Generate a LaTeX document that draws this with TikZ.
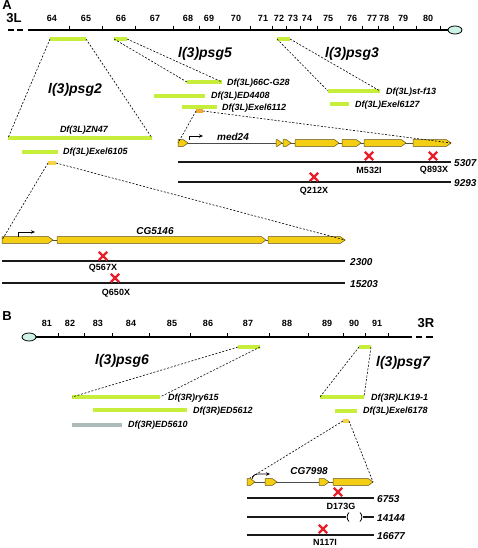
\documentclass[tikz,border=0pt]{standalone}
\usepackage{fontspec}
\setmainfont{Liberation Sans}
\usetikzlibrary{arrows.meta,shapes.geometric}
\definecolor{dfgreen}{RGB}{198,238,58}
\definecolor{dfgrey}{RGB}{172,186,186}
\definecolor{markyel}{RGB}{246,212,70}
\definecolor{markorg}{RGB}{242,168,52}
\definecolor{exonfill}{RGB}{244,206,18}
\definecolor{exonline}{RGB}{95,80,15}
\definecolor{mutred}{RGB}{232,30,40}
\definecolor{telcol}{RGB}{205,242,232}
\newcommand{\exonbox}[3]{\filldraw[exon] (#1,{#3-3.3}) -- ({#2-4.5},{#3-3.3}) -- (#2,#3) -- ({#2-4.5},{#3+3.3}) -- (#1,{#3+3.3}) -- cycle;}
\newcommand{\mutx}[2]{\draw[redx] ({#1-4.2},{#2-4.2}) -- ({#1+4.2},{#2+4.2}) ({#1-4.2},{#2+4.2}) -- ({#1+4.2},{#2-4.2});}
\begin{document}
\begin{tikzpicture}[x=1pt,y=-1pt,
  chrom/.style={line width=2.2pt},
  tickmk/.style={line width=0.8pt},
  dfbar/.style={line width=3.4pt,dfgreen},
  greybar/.style={line width=3.4pt,dfgrey},
  markbar/.style={line width=3.4pt,#1},
  zoomln/.style={line width=0.6pt,dash pattern=on 2pt off 1.6pt},
  mutln/.style={line width=1.2pt,black!90},
  intron/.style={line width=0.8pt,black!70},
  exon/.style={fill=exonfill,draw=exonline,line width=0.5pt},
  redx/.style={mutred,line width=2.2pt},
  tss/.style={line width=0.8pt,-{Stealth[length=4pt,width=3.5pt]}},
  tel/.style={ellipse,draw,line width=0.8pt,fill=telcol,minimum width=14pt,minimum height=8pt,inner sep=0pt},
  panel/.style={font=\fontsize{13}{15}\selectfont\bfseries,inner sep=0pt},
  arm/.style={font=\fontsize{13}{15}\selectfont\bfseries,inner sep=0pt},
  num/.style={font=\fontsize{9}{10}\selectfont\bfseries,inner sep=0pt},
  dflab/.style={font=\fontsize{9}{10}\selectfont\bfseries\itshape,anchor=west,inner sep=0pt},
  locus/.style={font=\fontsize{14}{16}\selectfont\bfseries\itshape,inner sep=0pt},
  genelab/.style={font=\fontsize{10}{12}\selectfont\bfseries\itshape,inner sep=0pt},
  mutlab/.style={font=\fontsize{9}{10}\selectfont\bfseries,inner sep=0pt},
  lenlab/.style={font=\fontsize{10}{12}\selectfont\bfseries\itshape,anchor=west,inner sep=0pt}]
\useasboundingbox (0,0) rectangle (478,548);

%%%%%%%%%%%%%%%% PANEL A %%%%%%%%%%%%%%%%
\node[panel] (pA) at (7,5) {A};
\node[arm] (armL) at (14,18) {3L};
\foreach \n/\x in {64/52,65/86,66/121,67/155,68/188,69/209,70/236,71/263,72/279,73/293,74/307,75/328,76/352,77/372,78/384,79/403,80/428}
  \node[num] (nA\n) at (\x,18) {\n};
\node[tel] (telA) at (455,30) {};
\coordinate (cA0) at (28,30);
\draw[chrom] (cA0) -- (telA.west);
\draw[chrom] (8,30) -- (13.5,30) (17,30) -- (23,30);
\foreach \x in {69,102,135,173,199,219,250,272,286,300,317,340,362,378,393,416,440}
  \draw[tickmk] (\x,26) -- (\x,30);

% l(3)psg2
\draw[dfbar] (50,39) coordinate (g2a) -- (86,39) coordinate (g2b);
\node[locus] (psg2) at (75,90) {l(3)psg2};
\draw[dfbar] (8,138) coordinate (zn47a) -- (152,138) coordinate (zn47b);
\node[font=\fontsize{9}{10}\selectfont\bfseries\itshape,inner sep=0pt] (zn47) at (84,130) {Df(3L)ZN47};
\draw[zoomln] (g2a) -- (zn47a);
\draw[zoomln] (g2b) -- (zn47b);
\draw[dfbar] (22,152) -- (58,152);
\node[dflab] (ex6105) at (63,152) {Df(3L)Exel6105};
\draw[markbar=markyel] (48,163) coordinate (m1a) -- (56,163) coordinate (m1b);

% CG5146
\coordinate (cgA) at (2,240);
\coordinate (cgB) at (345,240);
\draw[intron] (cgA) -- (cgB);
\exonbox{2}{53}{240}
\exonbox{57}{266}{240}
\exonbox{268}{345}{240}
\draw[tss] (18,237) -- (18,232) -- (35,232);
\node[genelab] (cg5146) at (155,231) {CG5146};
\draw[zoomln] (m1a) -- (cgA);
\draw[zoomln] (m1b) -- (cgB);
\draw[mutln] (2,261) coordinate (l2300a) -- (345,261) coordinate (l2300b);
\node[lenlab] (n2300) at (350,262) {2300};
\mutx{103}{256}
\node[mutlab] (q567) at (103,268) {Q567X};
\draw[mutln] (2,283) coordinate (l15203a) -- (345,283) coordinate (l15203b);
\node[lenlab] (n15203) at (350,284) {15203};
\mutx{115}{278}
\node[mutlab] (q650) at (116,293) {Q650X};

% l(3)psg5
\draw[dfbar] (114,39) coordinate (g5a) -- (127,39) coordinate (g5b);
\node[locus] (psg5) at (205,54) {l(3)psg5};
\draw[dfbar] (187,82) coordinate (g28a) -- (222,82) coordinate (g28b);
\draw[zoomln] (g5a) -- (g28a);
\draw[zoomln] (g5b) -- (g28b);
\node[dflab] (g28) at (227,83) {Df(3L)66C-G28};
\draw[dfbar] (154,96) -- (205,96);
\node[dflab] (ed4408) at (211,96) {Df(3L)ED4408};
\draw[dfbar] (182,107) -- (217,107);
\node[dflab] (ex6112) at (222,108) {Df(3L)Exel6112};
\draw[markbar=markorg] (196,111) coordinate (m2a) -- (203,111) coordinate (m2b);

% l(3)psg3
\draw[dfbar] (277,39) coordinate (g3a) -- (290,39) coordinate (g3b);
\node[locus] (psg3) at (352,54) {l(3)psg3};
\draw[dfbar] (328,91) coordinate (stfa) -- (380,91) coordinate (stfb);
\draw[zoomln] (g3a) -- (stfa);
\draw[zoomln] (g3b) -- (stfb);
\node[dflab] (stf13) at (386,92) {Df(3L)st-f13};
\draw[dfbar] (330,104) -- (349,104);
\node[dflab] (ex6127) at (355,105) {Df(3L)Exel6127};

% med24
\coordinate (mdA) at (178,143);
\coordinate (mdB) at (451,143);
\draw[intron] (mdA) -- (mdB);
\exonbox{178}{188}{143}
\exonbox{276}{282}{143}
\exonbox{283}{291}{143}
\exonbox{295}{339}{143}
\exonbox{342}{361}{143}
\exonbox{364}{406}{143}
\exonbox{413}{451}{143}
\draw[tss] (189,140) -- (189,136) -- (203,136);
\node[genelab] (med24) at (233,137) {med24};
\draw[zoomln] (m2a) -- (mdA);
\draw[zoomln] (m2b) -- (mdB);
\draw[mutln] (178,162) coordinate (l5307a) -- (451,162) coordinate (l5307b);
\node[lenlab] (n5307) at (454,163) {5307};
\mutx{369}{156}
\node[mutlab] (m532) at (369,170) {M532I};
\mutx{433}{156}
\node[mutlab] (q893) at (434,170) {Q893X};
\draw[mutln] (178,182) coordinate (l9293a) -- (451,182) coordinate (l9293b);
\node[lenlab] (n9293) at (454,183) {9293};
\mutx{314}{177}
\node[mutlab] (q212) at (314,191) {Q212X};

%%%%%%%%%%%%%%%% PANEL B %%%%%%%%%%%%%%%%
\node[panel] (pB) at (7,316) {B};
\node[arm] (armR) at (426,323) {3R};
\foreach \n/\x in {81/47,82/70,83/98,84/131,85/172,86/208,87/248,88/287,89/327,90/354,91/377}
  \node[num] (nB\n) at (\x,323) {\n};
\node[tel] (telB) at (29,337) {};
\coordinate (cB1) at (412,337);
\draw[chrom] (telB.east) -- (cB1);
\draw[chrom] (415.5,337) -- (422,337) (426,337) -- (433,337);
\foreach \x in {58,84,112,149,190,227,269,308,343,365,388}
  \draw[tickmk] (\x,333) -- (\x,337);

% l(3)psg6
\draw[dfbar] (238,347) coordinate (g6a) -- (260,347) coordinate (g6b);
\node[locus] (psg6) at (122,361) {l(3)psg6};
\draw[dfbar] (72,397) coordinate (rya) -- (160,397) coordinate (ryb);
\draw[zoomln] (g6a) -- (rya);
\draw[zoomln] (g6b) -- (ryb);
\node[dflab] (ry615) at (168,398) {Df(3R)ry615};
\draw[dfbar] (93,410) -- (187,410);
\node[dflab] (ed5612) at (193,411) {Df(3R)ED5612};
\draw[greybar] (72,425) -- (122,425);
\node[dflab] (ed5610) at (128,425) {Df(3R)ED5610};

% l(3)psg7
\draw[dfbar] (359,347) coordinate (g7a) -- (371,347) coordinate (g7b);
\node[locus] (psg7) at (403,363) {l(3)psg7};
\draw[dfbar] (320,397) coordinate (lka) -- (364,397) coordinate (lkb);
\draw[zoomln] (g7a) -- (lka);
\draw[zoomln] (g7b) -- (lkb);
\node[dflab] (lk19) at (371,398) {Df(3R)LK19-1};
\draw[dfbar] (335,411) -- (357,411);
\node[dflab] (ex6178) at (363,411) {Df(3L)Exel6178};
\draw[markbar=markyel] (343,421) coordinate (m3a) -- (349,421) coordinate (m3b);

% CG7998
\coordinate (c7A) at (247,482);
\coordinate (c7B) at (373,482);
\coordinate (c7L) at (250,478);
\draw[intron] (c7A) -- (c7B);
\exonbox{247}{255}{482}
\exonbox{265}{277}{482}
\exonbox{319}{329}{482}
\exonbox{333}{373}{482}
\draw[tss,rounded corners=3pt] (252,479) -- (254,474) -- (270,474);
\node[genelab] (cg7998) at (309,471) {CG7998};
\draw[zoomln] (m3a) -- (c7L);
\draw[zoomln] (m3b) -- (c7B);
\draw[mutln] (247,498) coordinate (l6753a) -- (374,498) coordinate (l6753b);
\node[lenlab] (n6753) at (377,499) {6753};
\mutx{338}{492}
\node[mutlab] (d173) at (341,506) {D173G};
\draw[mutln] (247,517) coordinate (l14144a) -- (346,517) coordinate (gapA);
\draw[mutln] (363,517) coordinate (gapB) -- (374,517) coordinate (l14144b);
\draw[line width=0.8pt] (349,512.5) .. controls (346.5,515) and (346.5,519) .. (349,521.5);
\draw[line width=0.8pt] (360,512.5) .. controls (362.5,515) and (362.5,519) .. (360,521.5);
\node[lenlab] (n14144) at (377,518) {14144};
\draw[mutln] (247,535) coordinate (l16677a) -- (374,535) coordinate (l16677b);
\node[lenlab] (n16677) at (377,536) {16677};
\mutx{323}{529}
\node[mutlab] (n117) at (325,542) {N117I};
\end{tikzpicture}
\end{document}
